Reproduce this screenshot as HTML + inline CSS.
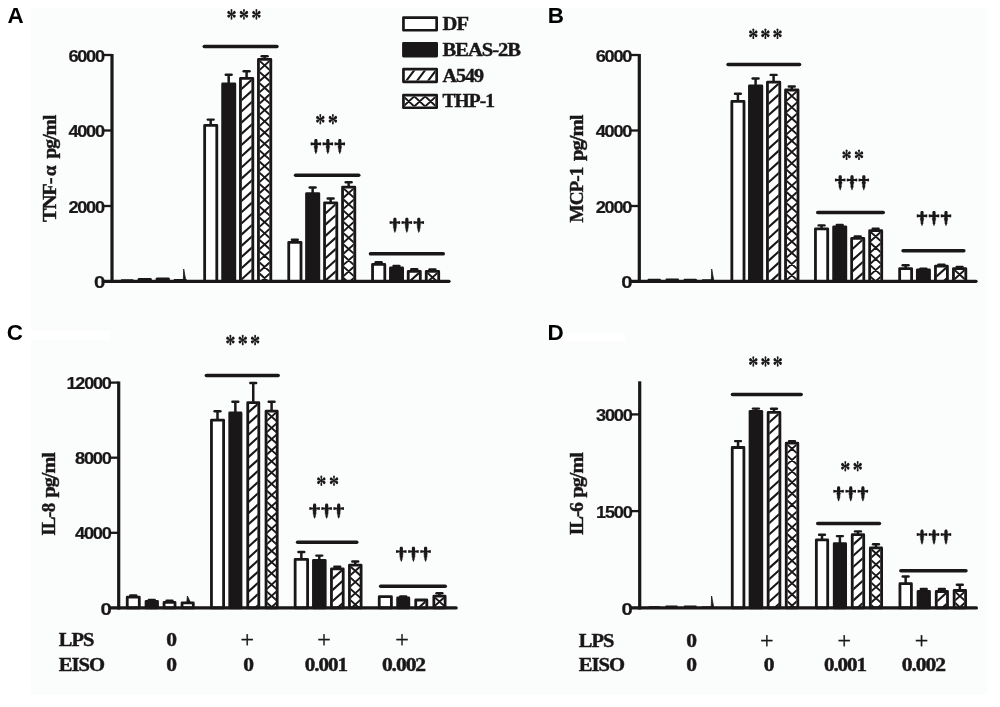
<!DOCTYPE html>
<html><head><meta charset="utf-8"><title>Figure</title>
<style>html,body{margin:0;padding:0;background:#fff;}body{width:1000px;height:707px;overflow:hidden;font-family:"Liberation Sans",sans-serif;}svg{display:block;will-change:transform;}</style>
</head><body>
<svg width="1000" height="707" viewBox="0 0 1000 707">
<defs>
<symbol id="star" overflow="visible"><g fill="#1a1718" transform="scale(0.88 1)"><path d="M0 -0.3C-0.6 -1.6 -1.2 -3.5 -1.0 -4.6C-0.8 -5.5 0.8 -5.5 1.0 -4.6C1.2 -3.5 0.6 -1.6 0 -0.3Z" transform="rotate(0)"/><path d="M0 -0.3C-0.9 -1.6 -1.75 -3.4 -1.45 -4.5C-1.2 -5.4 1.2 -5.4 1.45 -4.5C1.75 -3.4 0.9 -1.6 0 -0.3Z" transform="rotate(60)"/><path d="M0 -0.3C-0.9 -1.6 -1.75 -3.4 -1.45 -4.5C-1.2 -5.4 1.2 -5.4 1.45 -4.5C1.75 -3.4 0.9 -1.6 0 -0.3Z" transform="rotate(120)"/><path d="M0 -0.3C-0.6 -1.6 -1.2 -3.5 -1.0 -4.6C-0.8 -5.5 0.8 -5.5 1.0 -4.6C1.2 -3.5 0.6 -1.6 0 -0.3Z" transform="rotate(180)"/><path d="M0 -0.3C-0.9 -1.6 -1.75 -3.4 -1.45 -4.5C-1.2 -5.4 1.2 -5.4 1.45 -4.5C1.75 -3.4 0.9 -1.6 0 -0.3Z" transform="rotate(240)"/><path d="M0 -0.3C-0.9 -1.6 -1.75 -3.4 -1.45 -4.5C-1.2 -5.4 1.2 -5.4 1.45 -4.5C1.75 -3.4 0.9 -1.6 0 -0.3Z" transform="rotate(300)"/><circle r="1.4"/></g></symbol>
<symbol id="dag" overflow="visible"><g fill="#1a1718"><path d="M-1.0 0.1C-0.5 -0.1 0.5 -0.1 1.0 0.1C1.8 1.2 1.7 2.6 1.5 3.6L-1.5 3.6C-1.7 2.6 -1.8 1.2 -1.0 0.1Z"/><path d="M-5.0 3.3C-5.4 3.4 -5.4 6.2 -5.0 6.4C-3.4 6.0 -1.8 5.9 0 5.9C1.8 5.9 3.4 6.0 5.0 6.4C5.4 6.2 5.4 3.4 5.0 3.3C3.4 3.7 1.8 3.8 0 3.8C-1.8 3.8 -3.4 3.7 -5.0 3.3Z"/><rect x="-1.5" y="3" width="3" height="3.5"/><path d="M-1.5 5.5L1.5 5.5L1.3 6.6L2.50 7.00L1.30 7.95L2.30 8.35L1.10 9.30L2.10 9.70L0.90 10.65L1.90 11.05L0.70 12.00L1.70 12.40L0.50 13.35L0.9 13.6L0 15.2L-0.9 13.6L-0.50 13.35L-1.70 12.40L-0.70 12.00L-1.90 11.05L-0.90 10.65L-2.10 9.70L-1.10 9.30L-2.30 8.35L-1.30 7.95L-2.50 7.00L-1.3 6.6Z"/></g></symbol>
</defs>
<rect width="1000" height="707" fill="#fff"/>
<rect x="31" y="8.5" width="956.5" height="685.8" fill="#fbfcfc"/>
<rect x="31" y="331" width="79" height="9" fill="#fff"/>
<rect x="562" y="334" width="63" height="8" fill="#fff"/>
<rect x="204.65" y="125.4" width="12.15" height="155.9" fill="#fff" stroke="#1a1718" stroke-width="2.8" stroke-linejoin="round"/>
<path d="M210.7 125V119.6" stroke="#1a1718" stroke-width="2.5" fill="none"/>
<path d="M207.75 119.6H213.65" stroke="#1a1718" stroke-width="2.4" stroke-linecap="round" fill="none"/>
<rect x="222.65" y="84" width="12.15" height="197.3" fill="#1a1718" stroke="#1a1718" stroke-width="2.8" stroke-linejoin="round"/>
<path d="M228.7 83.6V74.7" stroke="#1a1718" stroke-width="2.5" fill="none"/>
<path d="M225.75 74.7H231.65" stroke="#1a1718" stroke-width="2.4" stroke-linecap="round" fill="none"/>
<clipPath id="c1"><rect x="241.55" y="79.5" width="10.15" height="201.8"/></clipPath><rect x="240.45" y="78.4" width="12.35" height="202.9" fill="#fff"/><path d="M253.2 67.25L240.05 79.08M253.2 78.45L240.05 90.28M253.2 89.65L240.05 101.48M253.2 100.85L240.05 112.68M253.2 112.05L240.05 123.88M253.2 123.25L240.05 135.09M253.2 134.45L240.05 146.29M253.2 145.65L240.05 157.49M253.2 156.85L240.05 168.69M253.2 168.05L240.05 179.88M253.2 179.25L240.05 191.09M253.2 190.45L240.05 202.29M253.2 201.65L240.05 213.49M253.2 212.85L240.05 224.69M253.2 224.05L240.05 235.88M253.2 235.25L240.05 247.08M253.2 246.45L240.05 258.29M253.2 257.65L240.05 269.49M253.2 268.85L240.05 280.69M253.2 280.05L240.05 291.88" stroke="#1a1718" stroke-width="2.1" fill="none" clip-path="url(#c1)"/><rect x="240.45" y="78.4" width="12.35" height="202.9" fill="none" stroke="#1a1718" stroke-width="2.8" stroke-linejoin="round"/>
<path d="M246.6 78V71.2" stroke="#1a1718" stroke-width="2.5" fill="none"/>
<path d="M243.65 71.2H249.55" stroke="#1a1718" stroke-width="2.4" stroke-linecap="round" fill="none"/>
<clipPath id="c2"><rect x="259.55" y="60.5" width="10.15" height="220.8"/></clipPath><rect x="258.45" y="59.4" width="12.35" height="221.9" fill="#fff"/><path d="M271.2 48.25L258.05 60.08M258.05 48.25L271.2 60.08M271.2 59.45L258.05 71.28M258.05 59.45L271.2 71.28M271.2 70.65L258.05 82.48M258.05 70.65L271.2 82.48M271.2 81.85L258.05 93.68M258.05 81.85L271.2 93.68M271.2 93.05L258.05 104.88M258.05 93.05L271.2 104.88M271.2 104.25L258.05 116.08M258.05 104.25L271.2 116.08M271.2 115.45L258.05 127.28M258.05 115.45L271.2 127.28M271.2 126.65L258.05 138.48M258.05 126.65L271.2 138.48M271.2 137.85L258.05 149.68M258.05 137.85L271.2 149.68M271.2 149.05L258.05 160.88M258.05 149.05L271.2 160.88M271.2 160.25L258.05 172.08M258.05 160.25L271.2 172.08M271.2 171.45L258.05 183.28M258.05 171.45L271.2 183.28M271.2 182.65L258.05 194.48M258.05 182.65L271.2 194.48M271.2 193.85L258.05 205.68M258.05 193.85L271.2 205.68M271.2 205.05L258.05 216.88M258.05 205.05L271.2 216.88M271.2 216.25L258.05 228.08M258.05 216.25L271.2 228.08M271.2 227.45L258.05 239.28M258.05 227.45L271.2 239.28M271.2 238.65L258.05 250.48M258.05 238.65L271.2 250.48M271.2 249.85L258.05 261.68M258.05 249.85L271.2 261.68M271.2 261.05L258.05 272.88M258.05 261.05L271.2 272.88M271.2 272.25L258.05 284.08M258.05 272.25L271.2 284.08" stroke="#1a1718" stroke-width="1.9" fill="none" clip-path="url(#c2)"/><rect x="258.45" y="59.4" width="12.35" height="221.9" fill="none" stroke="#1a1718" stroke-width="2.8" stroke-linejoin="round"/>
<path d="M264.6 59V56.2" stroke="#1a1718" stroke-width="2.5" fill="none"/>
<path d="M261.65 56.2H267.55" stroke="#1a1718" stroke-width="2.4" stroke-linecap="round" fill="none"/>
<rect x="288.75" y="242.3" width="12.25" height="39" fill="#fff" stroke="#1a1718" stroke-width="2.8" stroke-linejoin="round"/>
<path d="M294.85 241.9V239.7" stroke="#1a1718" stroke-width="2.5" fill="none"/>
<path d="M291.9 239.7H297.8" stroke="#1a1718" stroke-width="2.4" stroke-linecap="round" fill="none"/>
<rect x="306.55" y="193.6" width="12.25" height="87.7" fill="#1a1718" stroke="#1a1718" stroke-width="2.8" stroke-linejoin="round"/>
<path d="M312.65 193.2V187.5" stroke="#1a1718" stroke-width="2.5" fill="none"/>
<path d="M309.7 187.5H315.6" stroke="#1a1718" stroke-width="2.4" stroke-linecap="round" fill="none"/>
<clipPath id="c3"><rect x="325.65" y="203.9" width="10.05" height="77.4"/></clipPath><rect x="324.55" y="202.8" width="12.25" height="78.5" fill="#fff"/><path d="M337.2 191.65L324.15 203.39M337.2 202.85L324.15 214.59M337.2 214.05L324.15 225.79M337.2 225.25L324.15 236.99M337.2 236.45L324.15 248.19M337.2 247.65L324.15 259.39M337.2 258.85L324.15 270.6M337.2 270.05L324.15 281.79M337.2 281.25L324.15 293" stroke="#1a1718" stroke-width="2.1" fill="none" clip-path="url(#c3)"/><rect x="324.55" y="202.8" width="12.25" height="78.5" fill="none" stroke="#1a1718" stroke-width="2.8" stroke-linejoin="round"/>
<path d="M330.65 202.4V198.5" stroke="#1a1718" stroke-width="2.5" fill="none"/>
<path d="M327.7 198.5H333.6" stroke="#1a1718" stroke-width="2.4" stroke-linecap="round" fill="none"/>
<clipPath id="c4"><rect x="343.65" y="188.2" width="10.05" height="93.1"/></clipPath><rect x="342.55" y="187.1" width="12.25" height="94.2" fill="#fff"/><path d="M355.2 175.95L342.15 187.69M342.15 175.95L355.2 187.69M355.2 187.15L342.15 198.89M342.15 187.15L355.2 198.89M355.2 198.35L342.15 210.09M342.15 198.35L355.2 210.09M355.2 209.55L342.15 221.29M342.15 209.55L355.2 221.29M355.2 220.75L342.15 232.49M342.15 220.75L355.2 232.49M355.2 231.95L342.15 243.69M342.15 231.95L355.2 243.69M355.2 243.15L342.15 254.89M342.15 243.15L355.2 254.89M355.2 254.35L342.15 266.09M342.15 254.35L355.2 266.09M355.2 265.55L342.15 277.29M342.15 265.55L355.2 277.29M355.2 276.75L342.15 288.5M342.15 276.75L355.2 288.5" stroke="#1a1718" stroke-width="1.9" fill="none" clip-path="url(#c4)"/><rect x="342.55" y="187.1" width="12.25" height="94.2" fill="none" stroke="#1a1718" stroke-width="2.8" stroke-linejoin="round"/>
<path d="M348.65 186.7V182.3" stroke="#1a1718" stroke-width="2.5" fill="none"/>
<path d="M345.7 182.3H351.6" stroke="#1a1718" stroke-width="2.4" stroke-linecap="round" fill="none"/>
<rect x="372.55" y="264.4" width="12.25" height="16.9" fill="#fff" stroke="#1a1718" stroke-width="2.8" stroke-linejoin="round"/>
<path d="M378.65 264V262.2" stroke="#1a1718" stroke-width="2.5" fill="none"/>
<path d="M375.7 262.2H381.6" stroke="#1a1718" stroke-width="2.4" stroke-linecap="round" fill="none"/>
<rect x="390.45" y="267.9" width="12.15" height="13.4" fill="#1a1718" stroke="#1a1718" stroke-width="2.8" stroke-linejoin="round"/>
<path d="M396.5 267.5V266" stroke="#1a1718" stroke-width="2.5" fill="none"/>
<path d="M393.55 266H399.45" stroke="#1a1718" stroke-width="2.4" stroke-linecap="round" fill="none"/>
<clipPath id="c5"><rect x="409.35" y="272.5" width="9.85" height="8.8"/></clipPath><rect x="408.25" y="271.4" width="12.05" height="9.9" fill="#fff"/><path d="M420.7 260.25L407.85 271.81M420.7 271.45L407.85 283.01" stroke="#1a1718" stroke-width="2.1" fill="none" clip-path="url(#c5)"/><rect x="408.25" y="271.4" width="12.05" height="9.9" fill="none" stroke="#1a1718" stroke-width="2.8" stroke-linejoin="round"/>
<path d="M414.25 271V269.2" stroke="#1a1718" stroke-width="2.5" fill="none"/>
<path d="M411.3 269.2H417.2" stroke="#1a1718" stroke-width="2.4" stroke-linecap="round" fill="none"/>
<clipPath id="c6"><rect x="427.35" y="272.5" width="10.25" height="8.8"/></clipPath><rect x="426.25" y="271.4" width="12.45" height="9.9" fill="#fff"/><path d="M439.1 260.25L425.85 272.17M425.85 260.25L439.1 272.17M439.1 271.45L425.85 283.37M425.85 271.45L439.1 283.37" stroke="#1a1718" stroke-width="1.9" fill="none" clip-path="url(#c6)"/><rect x="426.25" y="271.4" width="12.45" height="9.9" fill="none" stroke="#1a1718" stroke-width="2.8" stroke-linejoin="round"/>
<path d="M432.45 271V269.5" stroke="#1a1718" stroke-width="2.5" fill="none"/>
<path d="M429.5 269.5H435.4" stroke="#1a1718" stroke-width="2.4" stroke-linecap="round" fill="none"/>
<path d="M121.5 279.9H133" stroke="#1a1718" stroke-width="1.2" stroke-linecap="round" fill="none"/>
<path d="M139 279.2H150.5" stroke="#1a1718" stroke-width="2.6" stroke-linecap="round" fill="none"/>
<path d="M157 279H168.5" stroke="#1a1718" stroke-width="3" stroke-linecap="round" fill="none"/>
<path d="M174.5 279.7H186" stroke="#1a1718" stroke-width="1.6" stroke-linecap="round" fill="none"/>
<path d="M183.3 281.3L183.7 269L185.9 281.3Z" fill="#1a1718" stroke="#1a1718" stroke-width="0.8" stroke-linejoin="round"/>
<path d="M112 54V282.9" stroke="#1a1718" stroke-width="3.2" fill="none"/>
<path d="M103.5 281.3H449" stroke="#1a1718" stroke-width="3.3" stroke-linecap="round" fill="none"/>
<path d="M103.5 55H112" stroke="#1a1718" stroke-width="2.3" fill="none"/>
<text x="103.8" y="61.6" text-anchor="end" font-family='"Liberation Sans", sans-serif' font-weight="700" font-size="17" letter-spacing="-1.2" textLength="35.4" lengthAdjust="spacingAndGlyphs" stroke="#1a1718" stroke-width="0.2" fill="#1a1718">6000</text>
<path d="M103.5 130.5H112" stroke="#1a1718" stroke-width="2.3" fill="none"/>
<text x="103.8" y="137.1" text-anchor="end" font-family='"Liberation Sans", sans-serif' font-weight="700" font-size="17" letter-spacing="-1.2" textLength="35.4" lengthAdjust="spacingAndGlyphs" stroke="#1a1718" stroke-width="0.2" fill="#1a1718">4000</text>
<path d="M103.5 206H112" stroke="#1a1718" stroke-width="2.3" fill="none"/>
<text x="103.8" y="212.6" text-anchor="end" font-family='"Liberation Sans", sans-serif' font-weight="700" font-size="17" letter-spacing="-1.2" textLength="35.4" lengthAdjust="spacingAndGlyphs" stroke="#1a1718" stroke-width="0.2" fill="#1a1718">2000</text>
<text x="103.8" y="287.9" text-anchor="end" font-family='"Liberation Sans", sans-serif' font-weight="700" font-size="17" letter-spacing="-1.2" textLength="9.9" lengthAdjust="spacingAndGlyphs" stroke="#1a1718" stroke-width="0.2" fill="#1a1718">0</text>
<path d="M204.25 46.6H276.95" stroke="#1a1718" stroke-width="3.5" stroke-linecap="round" fill="none"/>
<path d="M295.55 175.2H358.75" stroke="#1a1718" stroke-width="3.5" stroke-linecap="round" fill="none"/>
<path d="M370.45 253.8H443.25" stroke="#1a1718" stroke-width="3.5" stroke-linecap="round" fill="none"/>
<use href="#star" x="231.5" y="14.35"/>
<use href="#star" x="243.95" y="14.35"/>
<use href="#star" x="256.4" y="14.35"/>
<use href="#star" x="320.3" y="119.15"/>
<use href="#star" x="332.9" y="119.15"/>
<use href="#dag" x="315.9" y="139"/>
<use href="#dag" x="327.85" y="139"/>
<use href="#dag" x="339.8" y="139"/>
<use href="#dag" x="394.9" y="217.7"/>
<use href="#dag" x="406.85" y="217.7"/>
<use href="#dag" x="418.8" y="217.7"/>
<text transform="translate(56 221.9) rotate(-90)" text-anchor="start" font-family='"Liberation Serif", serif' font-weight="700" font-size="18" letter-spacing="-0.9" stroke="#1a1718" stroke-width="0.4" textLength="43.4" lengthAdjust="spacingAndGlyphs" fill="#1a1718">TNF-</text>
<text transform="translate(56 175.9) rotate(-90)" text-anchor="start" font-family='"Liberation Serif", serif' font-weight="700" font-size="18" letter-spacing="0" stroke="#1a1718" stroke-width="0.4" textLength="10.4" lengthAdjust="spacingAndGlyphs" fill="#1a1718">α</text>
<text transform="translate(56 158.6) rotate(-90)" text-anchor="start" font-family='"Liberation Serif", serif' font-weight="700" font-size="18" letter-spacing="-0.9" stroke="#1a1718" stroke-width="0.4" textLength="43" lengthAdjust="spacingAndGlyphs" fill="#1a1718">pg/ml</text>
<text x="7.6" y="23.2" font-family='"Liberation Sans", sans-serif' font-weight="700" font-size="22.4" fill="#000">A</text>
<rect x="731.85" y="101.4" width="12.15" height="179.9" fill="#fff" stroke="#1a1718" stroke-width="2.8" stroke-linejoin="round"/>
<path d="M737.9 101V93.8" stroke="#1a1718" stroke-width="2.5" fill="none"/>
<path d="M734.95 93.8H740.85" stroke="#1a1718" stroke-width="2.4" stroke-linecap="round" fill="none"/>
<rect x="749.45" y="85.8" width="12.35" height="195.5" fill="#1a1718" stroke="#1a1718" stroke-width="2.8" stroke-linejoin="round"/>
<path d="M755.6 85.4V78.5" stroke="#1a1718" stroke-width="2.5" fill="none"/>
<path d="M752.65 78.5H758.55" stroke="#1a1718" stroke-width="2.4" stroke-linecap="round" fill="none"/>
<clipPath id="c7"><rect x="768.55" y="83.3" width="10.15" height="198"/></clipPath><rect x="767.45" y="82.2" width="12.35" height="199.1" fill="#fff"/><path d="M780.2 71.05L767.05 82.88M780.2 82.25L767.05 94.08M780.2 93.45L767.05 105.28M780.2 104.65L767.05 116.48M780.2 115.85L767.05 127.68M780.2 127.05L767.05 138.88M780.2 138.25L767.05 150.08M780.2 149.45L767.05 161.28M780.2 160.65L767.05 172.48M780.2 171.85L767.05 183.68M780.2 183.05L767.05 194.88M780.2 194.25L767.05 206.08M780.2 205.45L767.05 217.28M780.2 216.65L767.05 228.48M780.2 227.85L767.05 239.68M780.2 239.05L767.05 250.88M780.2 250.25L767.05 262.08M780.2 261.45L767.05 273.28M780.2 272.65L767.05 284.48" stroke="#1a1718" stroke-width="2.1" fill="none" clip-path="url(#c7)"/><rect x="767.45" y="82.2" width="12.35" height="199.1" fill="none" stroke="#1a1718" stroke-width="2.8" stroke-linejoin="round"/>
<path d="M773.6 81.8V74.9" stroke="#1a1718" stroke-width="2.5" fill="none"/>
<path d="M770.65 74.9H776.55" stroke="#1a1718" stroke-width="2.4" stroke-linecap="round" fill="none"/>
<clipPath id="c8"><rect x="786.65" y="91.1" width="10.25" height="190.2"/></clipPath><rect x="785.55" y="90" width="12.45" height="191.3" fill="#fff"/><path d="M798.4 78.85L785.15 90.78M785.15 78.85L798.4 90.78M798.4 90.05L785.15 101.98M785.15 90.05L798.4 101.98M798.4 101.25L785.15 113.18M785.15 101.25L798.4 113.18M798.4 112.45L785.15 124.38M785.15 112.45L798.4 124.38M798.4 123.65L785.15 135.58M785.15 123.65L798.4 135.58M798.4 134.85L785.15 146.78M785.15 134.85L798.4 146.78M798.4 146.05L785.15 157.98M785.15 146.05L798.4 157.98M798.4 157.25L785.15 169.18M785.15 157.25L798.4 169.18M798.4 168.45L785.15 180.38M785.15 168.45L798.4 180.38M798.4 179.65L785.15 191.58M785.15 179.65L798.4 191.58M798.4 190.85L785.15 202.78M785.15 190.85L798.4 202.78M798.4 202.05L785.15 213.98M785.15 202.05L798.4 213.98M798.4 213.25L785.15 225.18M785.15 213.25L798.4 225.18M798.4 224.45L785.15 236.38M785.15 224.45L798.4 236.38M798.4 235.65L785.15 247.58M785.15 235.65L798.4 247.58M798.4 246.85L785.15 258.78M785.15 246.85L798.4 258.78M798.4 258.05L785.15 269.98M785.15 258.05L798.4 269.98M798.4 269.25L785.15 281.18M785.15 269.25L798.4 281.18M798.4 280.45L785.15 292.38M785.15 280.45L798.4 292.38" stroke="#1a1718" stroke-width="1.9" fill="none" clip-path="url(#c8)"/><rect x="785.55" y="90" width="12.45" height="191.3" fill="none" stroke="#1a1718" stroke-width="2.8" stroke-linejoin="round"/>
<path d="M791.75 89.6V86.5" stroke="#1a1718" stroke-width="2.5" fill="none"/>
<path d="M788.8 86.5H794.7" stroke="#1a1718" stroke-width="2.4" stroke-linecap="round" fill="none"/>
<rect x="815.45" y="228.8" width="12.25" height="52.5" fill="#fff" stroke="#1a1718" stroke-width="2.8" stroke-linejoin="round"/>
<path d="M821.55 228.4V225.4" stroke="#1a1718" stroke-width="2.5" fill="none"/>
<path d="M818.6 225.4H824.5" stroke="#1a1718" stroke-width="2.4" stroke-linecap="round" fill="none"/>
<rect x="833.65" y="226.8" width="12.15" height="54.5" fill="#1a1718" stroke="#1a1718" stroke-width="2.8" stroke-linejoin="round"/>
<path d="M839.7 226.4V225" stroke="#1a1718" stroke-width="2.5" fill="none"/>
<path d="M836.75 225H842.65" stroke="#1a1718" stroke-width="2.4" stroke-linecap="round" fill="none"/>
<clipPath id="c9"><rect x="852.75" y="239.4" width="9.95" height="41.9"/></clipPath><rect x="851.65" y="238.3" width="12.15" height="43" fill="#fff"/><path d="M864.2 227.15L851.25 238.81M864.2 238.35L851.25 250.01M864.2 249.55L851.25 261.21M864.2 260.75L851.25 272.41M864.2 271.95L851.25 283.61" stroke="#1a1718" stroke-width="2.1" fill="none" clip-path="url(#c9)"/><rect x="851.65" y="238.3" width="12.15" height="43" fill="none" stroke="#1a1718" stroke-width="2.8" stroke-linejoin="round"/>
<path d="M857.7 237.9V236.4" stroke="#1a1718" stroke-width="2.5" fill="none"/>
<path d="M854.75 236.4H860.65" stroke="#1a1718" stroke-width="2.4" stroke-linecap="round" fill="none"/>
<clipPath id="c10"><rect x="870.75" y="231.8" width="9.85" height="49.5"/></clipPath><rect x="869.65" y="230.7" width="12.05" height="50.6" fill="#fff"/><path d="M882.1 219.55L869.25 231.12M869.25 219.55L882.1 231.12M882.1 230.75L869.25 242.32M869.25 230.75L882.1 242.32M882.1 241.95L869.25 253.52M869.25 241.95L882.1 253.52M882.1 253.15L869.25 264.72M869.25 253.15L882.1 264.72M882.1 264.35L869.25 275.92M869.25 264.35L882.1 275.92M882.1 275.55L869.25 287.12M869.25 275.55L882.1 287.12" stroke="#1a1718" stroke-width="1.9" fill="none" clip-path="url(#c10)"/><rect x="869.65" y="230.7" width="12.05" height="50.6" fill="none" stroke="#1a1718" stroke-width="2.8" stroke-linejoin="round"/>
<path d="M875.65 230.3V228.8" stroke="#1a1718" stroke-width="2.5" fill="none"/>
<path d="M872.7 228.8H878.6" stroke="#1a1718" stroke-width="2.4" stroke-linecap="round" fill="none"/>
<rect x="899.65" y="268.6" width="11.95" height="12.7" fill="#fff" stroke="#1a1718" stroke-width="2.8" stroke-linejoin="round"/>
<path d="M905.6 268.2V265.2" stroke="#1a1718" stroke-width="2.5" fill="none"/>
<path d="M902.65 265.2H908.55" stroke="#1a1718" stroke-width="2.4" stroke-linecap="round" fill="none"/>
<rect x="917.35" y="270" width="12.15" height="11.3" fill="#1a1718" stroke="#1a1718" stroke-width="2.8" stroke-linejoin="round"/>
<path d="M923.4 269.6V268.6" stroke="#1a1718" stroke-width="2.5" fill="none"/>
<path d="M920.45 268.6H926.35" stroke="#1a1718" stroke-width="2.4" stroke-linecap="round" fill="none"/>
<clipPath id="c11"><rect x="936.55" y="267.3" width="9.75" height="14"/></clipPath><rect x="935.45" y="266.2" width="11.95" height="15.1" fill="#fff"/><path d="M947.8 255.05L935.05 266.53M947.8 266.25L935.05 277.73M947.8 277.45L935.05 288.93" stroke="#1a1718" stroke-width="2.1" fill="none" clip-path="url(#c11)"/><rect x="935.45" y="266.2" width="11.95" height="15.1" fill="none" stroke="#1a1718" stroke-width="2.8" stroke-linejoin="round"/>
<path d="M941.4 265.8V264.6" stroke="#1a1718" stroke-width="2.5" fill="none"/>
<path d="M938.45 264.6H944.35" stroke="#1a1718" stroke-width="2.4" stroke-linecap="round" fill="none"/>
<clipPath id="c12"><rect x="954.55" y="269.7" width="10.15" height="11.6"/></clipPath><rect x="953.45" y="268.6" width="12.35" height="12.7" fill="#fff"/><path d="M966.2 257.45L953.05 269.28M953.05 257.45L966.2 269.28M966.2 268.65L953.05 280.48M953.05 268.65L966.2 280.48M966.2 279.85L953.05 291.68M953.05 279.85L966.2 291.68" stroke="#1a1718" stroke-width="1.9" fill="none" clip-path="url(#c12)"/><rect x="953.45" y="268.6" width="12.35" height="12.7" fill="none" stroke="#1a1718" stroke-width="2.8" stroke-linejoin="round"/>
<path d="M959.6 268.2V267" stroke="#1a1718" stroke-width="2.5" fill="none"/>
<path d="M956.65 267H962.55" stroke="#1a1718" stroke-width="2.4" stroke-linecap="round" fill="none"/>
<path d="M648.5 279.6H660" stroke="#1a1718" stroke-width="1.8" stroke-linecap="round" fill="none"/>
<path d="M666.5 279.5H678" stroke="#1a1718" stroke-width="2" stroke-linecap="round" fill="none"/>
<path d="M684.5 279.6H696" stroke="#1a1718" stroke-width="1.8" stroke-linecap="round" fill="none"/>
<path d="M702.5 279.9H713.5" stroke="#1a1718" stroke-width="1.2" stroke-linecap="round" fill="none"/>
<path d="M711.3 281.3L711.7 269L713.9 281.3Z" fill="#1a1718" stroke="#1a1718" stroke-width="0.8" stroke-linejoin="round"/>
<path d="M639.3 54V282.9" stroke="#1a1718" stroke-width="3.2" fill="none"/>
<path d="M630.8 281.3H976" stroke="#1a1718" stroke-width="3.3" stroke-linecap="round" fill="none"/>
<path d="M630.8 55H639.3" stroke="#1a1718" stroke-width="2.3" fill="none"/>
<text x="631.1" y="61.6" text-anchor="end" font-family='"Liberation Sans", sans-serif' font-weight="700" font-size="17" letter-spacing="-1.2" textLength="35.4" lengthAdjust="spacingAndGlyphs" stroke="#1a1718" stroke-width="0.2" fill="#1a1718">6000</text>
<path d="M630.8 130.5H639.3" stroke="#1a1718" stroke-width="2.3" fill="none"/>
<text x="631.1" y="137.1" text-anchor="end" font-family='"Liberation Sans", sans-serif' font-weight="700" font-size="17" letter-spacing="-1.2" textLength="35.4" lengthAdjust="spacingAndGlyphs" stroke="#1a1718" stroke-width="0.2" fill="#1a1718">4000</text>
<path d="M630.8 206H639.3" stroke="#1a1718" stroke-width="2.3" fill="none"/>
<text x="631.1" y="212.6" text-anchor="end" font-family='"Liberation Sans", sans-serif' font-weight="700" font-size="17" letter-spacing="-1.2" textLength="35.4" lengthAdjust="spacingAndGlyphs" stroke="#1a1718" stroke-width="0.2" fill="#1a1718">2000</text>
<text x="631.1" y="287.9" text-anchor="end" font-family='"Liberation Sans", sans-serif' font-weight="700" font-size="17" letter-spacing="-1.2" textLength="9.9" lengthAdjust="spacingAndGlyphs" stroke="#1a1718" stroke-width="0.2" fill="#1a1718">0</text>
<path d="M728.05 64.6H799.55" stroke="#1a1718" stroke-width="3.5" stroke-linecap="round" fill="none"/>
<path d="M817.75 212.5H883.25" stroke="#1a1718" stroke-width="3.5" stroke-linecap="round" fill="none"/>
<path d="M903.05 250.7H963.85" stroke="#1a1718" stroke-width="3.5" stroke-linecap="round" fill="none"/>
<use href="#star" x="753.3" y="33.8"/>
<use href="#star" x="765.4" y="33.8"/>
<use href="#star" x="777.5" y="33.8"/>
<use href="#star" x="846.6" y="154.8"/>
<use href="#star" x="859" y="154.8"/>
<use href="#dag" x="840.2" y="175.2"/>
<use href="#dag" x="852" y="175.2"/>
<use href="#dag" x="863.8" y="175.2"/>
<use href="#dag" x="922" y="211"/>
<use href="#dag" x="934" y="211"/>
<use href="#dag" x="946" y="211"/>
<text transform="translate(582.9 222.5) rotate(-90)" text-anchor="start" font-family='"Liberation Serif", serif' font-weight="700" font-size="18" letter-spacing="-0.9" stroke="#1a1718" stroke-width="0.4" textLength="54.8" lengthAdjust="spacingAndGlyphs" fill="#1a1718">MCP-1</text>
<text transform="translate(582.9 161) rotate(-90)" text-anchor="start" font-family='"Liberation Serif", serif' font-weight="700" font-size="18" letter-spacing="-0.9" stroke="#1a1718" stroke-width="0.4" textLength="45.4" lengthAdjust="spacingAndGlyphs" fill="#1a1718">pg/ml</text>
<text x="547.7" y="23.2" font-family='"Liberation Sans", sans-serif' font-weight="700" font-size="22.4" fill="#000">B</text>
<rect x="127.25" y="597.2" width="12.05" height="10.7" fill="#fff" stroke="#1a1718" stroke-width="2.8" stroke-linejoin="round"/>
<path d="M133.25 596.8V595.5" stroke="#1a1718" stroke-width="2.5" fill="none"/>
<path d="M130.3 595.5H136.2" stroke="#1a1718" stroke-width="2.4" stroke-linecap="round" fill="none"/>
<rect x="146.05" y="601.4" width="11.45" height="6.5" fill="#1a1718" stroke="#1a1718" stroke-width="2.8" stroke-linejoin="round"/>
<path d="M151.75 601V600" stroke="#1a1718" stroke-width="2.5" fill="none"/>
<path d="M148.8 600H154.7" stroke="#1a1718" stroke-width="2.4" stroke-linecap="round" fill="none"/>
<clipPath id="c13"><rect x="165.15" y="603.5" width="8.75" height="4.4"/></clipPath><rect x="164.05" y="602.4" width="10.95" height="5.5" fill="#fff"/><path d="" stroke="#1a1718" stroke-width="2.1" fill="none" clip-path="url(#c13)"/><rect x="164.05" y="602.4" width="10.95" height="5.5" fill="none" stroke="#1a1718" stroke-width="2.8" stroke-linejoin="round"/>
<path d="M169.5 602V600.7" stroke="#1a1718" stroke-width="2.5" fill="none"/>
<path d="M166.55 600.7H172.45" stroke="#1a1718" stroke-width="2.4" stroke-linecap="round" fill="none"/>
<clipPath id="c14"><rect x="183.15" y="604" width="9.05" height="3.9"/></clipPath><rect x="182.05" y="602.9" width="11.25" height="5" fill="#fff"/><path d="" stroke="#1a1718" stroke-width="1.9" fill="none" clip-path="url(#c14)"/><rect x="182.05" y="602.9" width="11.25" height="5" fill="none" stroke="#1a1718" stroke-width="2.8" stroke-linejoin="round"/>
<rect x="211.45" y="420.1" width="12.15" height="187.8" fill="#fff" stroke="#1a1718" stroke-width="2.8" stroke-linejoin="round"/>
<path d="M217.5 419.7V411.2" stroke="#1a1718" stroke-width="2.5" fill="none"/>
<path d="M214.55 411.2H220.45" stroke="#1a1718" stroke-width="2.4" stroke-linecap="round" fill="none"/>
<rect x="229.75" y="412.9" width="11.25" height="195" fill="#1a1718" stroke="#1a1718" stroke-width="2.8" stroke-linejoin="round"/>
<path d="M235.35 412.5V401.7" stroke="#1a1718" stroke-width="2.5" fill="none"/>
<path d="M232.4 401.7H238.3" stroke="#1a1718" stroke-width="2.4" stroke-linecap="round" fill="none"/>
<clipPath id="c15"><rect x="248.85" y="403.7" width="8.85" height="204.2"/></clipPath><rect x="247.75" y="402.6" width="11.05" height="205.3" fill="#fff"/><path d="M259.2 391.45L247.35 402.12M259.2 402.65L247.35 413.31M259.2 413.85L247.35 424.51M259.2 425.05L247.35 435.71M259.2 436.25L247.35 446.92M259.2 447.45L247.35 458.12M259.2 458.65L247.35 469.31M259.2 469.85L247.35 480.51M259.2 481.05L247.35 491.71M259.2 492.25L247.35 502.92M259.2 503.45L247.35 514.12M259.2 514.65L247.35 525.31M259.2 525.85L247.35 536.51M259.2 537.05L247.35 547.71M259.2 548.25L247.35 558.91M259.2 559.45L247.35 570.11M259.2 570.65L247.35 581.31M259.2 581.85L247.35 592.51M259.2 593.05L247.35 603.71M259.2 604.25L247.35 614.91" stroke="#1a1718" stroke-width="2.1" fill="none" clip-path="url(#c15)"/><rect x="247.75" y="402.6" width="11.05" height="205.3" fill="none" stroke="#1a1718" stroke-width="2.8" stroke-linejoin="round"/>
<path d="M253.25 402.2V383" stroke="#1a1718" stroke-width="2.5" fill="none"/>
<path d="M250.3 383H256.2" stroke="#1a1718" stroke-width="2.4" stroke-linecap="round" fill="none"/>
<clipPath id="c16"><rect x="267.15" y="412.3" width="8.95" height="195.6"/></clipPath><rect x="266.05" y="411.2" width="11.15" height="196.7" fill="#fff"/><path d="M277.6 400.05L265.65 410.8M265.65 400.05L277.6 410.8M277.6 411.25L265.65 422M265.65 411.25L277.6 422M277.6 422.45L265.65 433.2M265.65 422.45L277.6 433.2M277.6 433.65L265.65 444.4M265.65 433.65L277.6 444.4M277.6 444.85L265.65 455.6M265.65 444.85L277.6 455.6M277.6 456.05L265.65 466.8M265.65 456.05L277.6 466.8M277.6 467.25L265.65 478M265.65 467.25L277.6 478M277.6 478.45L265.65 489.2M265.65 478.45L277.6 489.2M277.6 489.65L265.65 500.4M265.65 489.65L277.6 500.4M277.6 500.85L265.65 511.6M265.65 500.85L277.6 511.6M277.6 512.05L265.65 522.8M265.65 512.05L277.6 522.8M277.6 523.25L265.65 534M265.65 523.25L277.6 534M277.6 534.45L265.65 545.2M265.65 534.45L277.6 545.2M277.6 545.65L265.65 556.4M265.65 545.65L277.6 556.4M277.6 556.85L265.65 567.61M265.65 556.85L277.6 567.61M277.6 568.05L265.65 578.8M265.65 568.05L277.6 578.8M277.6 579.25L265.65 590M265.65 579.25L277.6 590M277.6 590.45L265.65 601.2M265.65 590.45L277.6 601.2M277.6 601.65L265.65 612.4M265.65 601.65L277.6 612.4" stroke="#1a1718" stroke-width="1.9" fill="none" clip-path="url(#c16)"/><rect x="266.05" y="411.2" width="11.15" height="196.7" fill="none" stroke="#1a1718" stroke-width="2.8" stroke-linejoin="round"/>
<path d="M271.6 410.8V401.7" stroke="#1a1718" stroke-width="2.5" fill="none"/>
<path d="M268.65 401.7H274.55" stroke="#1a1718" stroke-width="2.4" stroke-linecap="round" fill="none"/>
<rect x="295.15" y="559.3" width="12.45" height="48.6" fill="#fff" stroke="#1a1718" stroke-width="2.8" stroke-linejoin="round"/>
<path d="M301.35 558.9V552" stroke="#1a1718" stroke-width="2.5" fill="none"/>
<path d="M298.4 552H304.3" stroke="#1a1718" stroke-width="2.4" stroke-linecap="round" fill="none"/>
<rect x="313.45" y="560.3" width="11.75" height="47.6" fill="#1a1718" stroke="#1a1718" stroke-width="2.8" stroke-linejoin="round"/>
<path d="M319.3 559.9V555.6" stroke="#1a1718" stroke-width="2.5" fill="none"/>
<path d="M316.35 555.6H322.25" stroke="#1a1718" stroke-width="2.4" stroke-linecap="round" fill="none"/>
<clipPath id="c17"><rect x="332.55" y="569.9" width="9.55" height="38"/></clipPath><rect x="331.45" y="568.8" width="11.75" height="39.1" fill="#fff"/><path d="M343.6 557.65L331.05 568.94M343.6 568.85L331.05 580.14M343.6 580.05L331.05 591.34M343.6 591.25L331.05 602.54M343.6 602.45L331.05 613.74" stroke="#1a1718" stroke-width="2.1" fill="none" clip-path="url(#c17)"/><rect x="331.45" y="568.8" width="11.75" height="39.1" fill="none" stroke="#1a1718" stroke-width="2.8" stroke-linejoin="round"/>
<path d="M337.3 568.4V566.7" stroke="#1a1718" stroke-width="2.5" fill="none"/>
<path d="M334.35 566.7H340.25" stroke="#1a1718" stroke-width="2.4" stroke-linecap="round" fill="none"/>
<clipPath id="c18"><rect x="350.55" y="566.3" width="9.45" height="41.6"/></clipPath><rect x="349.45" y="565.2" width="11.65" height="42.7" fill="#fff"/><path d="M361.5 554.05L349.05 565.25M349.05 554.05L361.5 565.25M361.5 565.25L349.05 576.45M349.05 565.25L361.5 576.45M361.5 576.45L349.05 587.65M349.05 576.45L361.5 587.65M361.5 587.65L349.05 598.85M349.05 587.65L361.5 598.85M361.5 598.85L349.05 610.05M349.05 598.85L361.5 610.05" stroke="#1a1718" stroke-width="1.9" fill="none" clip-path="url(#c18)"/><rect x="349.45" y="565.2" width="11.65" height="42.7" fill="none" stroke="#1a1718" stroke-width="2.8" stroke-linejoin="round"/>
<path d="M355.25 564.8V561.5" stroke="#1a1718" stroke-width="2.5" fill="none"/>
<path d="M352.3 561.5H358.2" stroke="#1a1718" stroke-width="2.4" stroke-linecap="round" fill="none"/>
<rect x="379.25" y="596.7" width="12.15" height="11.2" fill="#fff" stroke="#1a1718" stroke-width="2.8" stroke-linejoin="round"/>
<rect x="397.65" y="597.9" width="11.15" height="10" fill="#1a1718" stroke="#1a1718" stroke-width="2.8" stroke-linejoin="round"/>
<path d="M403.2 597.5V596.5" stroke="#1a1718" stroke-width="2.5" fill="none"/>
<path d="M400.25 596.5H406.15" stroke="#1a1718" stroke-width="2.4" stroke-linecap="round" fill="none"/>
<clipPath id="c19"><rect x="416.85" y="601.1" width="8.85" height="6.8"/></clipPath><rect x="415.75" y="600" width="11.05" height="7.9" fill="#fff"/><path d="M427.2 588.85L415.35 599.51M427.2 600.05L415.35 610.71" stroke="#1a1718" stroke-width="2.1" fill="none" clip-path="url(#c19)"/><rect x="415.75" y="600" width="11.05" height="7.9" fill="none" stroke="#1a1718" stroke-width="2.8" stroke-linejoin="round"/>
<clipPath id="c20"><rect x="434.95" y="597.3" width="9.05" height="10.6"/></clipPath><rect x="433.85" y="596.2" width="11.25" height="11.7" fill="#fff"/><path d="M445.5 585.05L433.45 595.89M433.45 585.05L445.5 595.89M445.5 596.25L433.45 607.09M433.45 596.25L445.5 607.09M445.5 607.45L433.45 618.29M433.45 607.45L445.5 618.29" stroke="#1a1718" stroke-width="1.9" fill="none" clip-path="url(#c20)"/><rect x="433.85" y="596.2" width="11.25" height="11.7" fill="none" stroke="#1a1718" stroke-width="2.8" stroke-linejoin="round"/>
<path d="M439.45 595.8V593.2" stroke="#1a1718" stroke-width="2.5" fill="none"/>
<path d="M436.5 593.2H442.4" stroke="#1a1718" stroke-width="2.4" stroke-linecap="round" fill="none"/>
<path d="M186.8 602.3L187.4 596L190.4 602.3Z" fill="#1a1718" stroke="#1a1718" stroke-width="0.8" stroke-linejoin="round"/>
<path d="M118.7 381.5V609.5" stroke="#1a1718" stroke-width="3.2" fill="none"/>
<path d="M110.2 607.9H456.1" stroke="#1a1718" stroke-width="3.3" stroke-linecap="round" fill="none"/>
<path d="M110.2 382.6H118.7" stroke="#1a1718" stroke-width="2.3" fill="none"/>
<text x="110.5" y="389.2" text-anchor="end" font-family='"Liberation Sans", sans-serif' font-weight="700" font-size="17" letter-spacing="-1.2" textLength="43.9" lengthAdjust="spacingAndGlyphs" stroke="#1a1718" stroke-width="0.2" fill="#1a1718">12000</text>
<path d="M110.2 457.7H118.7" stroke="#1a1718" stroke-width="2.3" fill="none"/>
<text x="110.5" y="464.3" text-anchor="end" font-family='"Liberation Sans", sans-serif' font-weight="700" font-size="17" letter-spacing="-1.2" textLength="35.4" lengthAdjust="spacingAndGlyphs" stroke="#1a1718" stroke-width="0.2" fill="#1a1718">8000</text>
<path d="M110.2 532.8H118.7" stroke="#1a1718" stroke-width="2.3" fill="none"/>
<text x="110.5" y="539.4" text-anchor="end" font-family='"Liberation Sans", sans-serif' font-weight="700" font-size="17" letter-spacing="-1.2" textLength="35.4" lengthAdjust="spacingAndGlyphs" stroke="#1a1718" stroke-width="0.2" fill="#1a1718">4000</text>
<text x="110.5" y="614.5" text-anchor="end" font-family='"Liberation Sans", sans-serif' font-weight="700" font-size="17" letter-spacing="-1.2" textLength="9.9" lengthAdjust="spacingAndGlyphs" stroke="#1a1718" stroke-width="0.2" fill="#1a1718">0</text>
<path d="M206.35 375.4H278.15" stroke="#1a1718" stroke-width="3.5" stroke-linecap="round" fill="none"/>
<path d="M297.55 542.3H356.75" stroke="#1a1718" stroke-width="3.5" stroke-linecap="round" fill="none"/>
<path d="M380.65 586.2H445.25" stroke="#1a1718" stroke-width="3.5" stroke-linecap="round" fill="none"/>
<use href="#star" x="230.4" y="340.05"/>
<use href="#star" x="242.75" y="340.05"/>
<use href="#star" x="255.1" y="340.05"/>
<use href="#star" x="321.3" y="480.7"/>
<use href="#star" x="334" y="480.7"/>
<use href="#dag" x="314.6" y="503.6"/>
<use href="#dag" x="326.65" y="503.6"/>
<use href="#dag" x="338.7" y="503.6"/>
<use href="#dag" x="401.3" y="546.7"/>
<use href="#dag" x="413.45" y="546.7"/>
<use href="#dag" x="425.6" y="546.7"/>
<text transform="translate(55 535.7) rotate(-90)" text-anchor="start" font-family='"Liberation Serif", serif' font-weight="700" font-size="18" letter-spacing="-0.9" stroke="#1a1718" stroke-width="0.4" textLength="31.9" lengthAdjust="spacingAndGlyphs" fill="#1a1718">IL-8</text>
<text transform="translate(55 497.5) rotate(-90)" text-anchor="start" font-family='"Liberation Serif", serif' font-weight="700" font-size="18" letter-spacing="-0.9" stroke="#1a1718" stroke-width="0.4" textLength="44.3" lengthAdjust="spacingAndGlyphs" fill="#1a1718">pg/ml</text>
<text x="6.8" y="339.7" font-family='"Liberation Sans", sans-serif' font-weight="700" font-size="22.4" fill="#000">C</text>
<text x="58.8" y="646.4" text-anchor="start" font-family='"Liberation Serif", serif' font-weight="700" font-size="18" letter-spacing="-0.9" textLength="34.5" lengthAdjust="spacingAndGlyphs" stroke="#1a1718" stroke-width="0.4" fill="#1a1718">LPS</text>
<text x="58.8" y="670.5" text-anchor="start" font-family='"Liberation Serif", serif' font-weight="700" font-size="18" letter-spacing="-0.9" textLength="45.2" lengthAdjust="spacingAndGlyphs" stroke="#1a1718" stroke-width="0.4" fill="#1a1718">EISO</text>
<text x="171.2" y="646.4" text-anchor="middle" font-family='"Liberation Serif", serif' font-weight="700" font-size="18" letter-spacing="-0.9" textLength="9.7" lengthAdjust="spacingAndGlyphs" stroke="#1a1718" stroke-width="0.4" fill="#1a1718">0</text>
<text x="171.2" y="670.5" text-anchor="middle" font-family='"Liberation Serif", serif' font-weight="700" font-size="18" letter-spacing="-0.9" textLength="9.7" lengthAdjust="spacingAndGlyphs" stroke="#1a1718" stroke-width="0.4" fill="#1a1718">0</text>
<text x="247.2" y="647.4" text-anchor="middle" font-family='"Liberation Serif", serif' font-weight="400" font-size="24" stroke="#1a1718" stroke-width="0.35" fill="#1a1718">+</text>
<text x="248" y="670.5" text-anchor="middle" font-family='"Liberation Serif", serif' font-weight="700" font-size="18" letter-spacing="-0.9" textLength="9.7" lengthAdjust="spacingAndGlyphs" stroke="#1a1718" stroke-width="0.4" fill="#1a1718">0</text>
<text x="324" y="647.4" text-anchor="middle" font-family='"Liberation Serif", serif' font-weight="400" font-size="24" stroke="#1a1718" stroke-width="0.35" fill="#1a1718">+</text>
<text x="325.8" y="670.5" text-anchor="middle" font-family='"Liberation Serif", serif' font-weight="700" font-size="18" letter-spacing="-0.9" textLength="42.2" lengthAdjust="spacingAndGlyphs" stroke="#1a1718" stroke-width="0.4" fill="#1a1718">0.001</text>
<text x="402" y="647.4" text-anchor="middle" font-family='"Liberation Serif", serif' font-weight="400" font-size="24" stroke="#1a1718" stroke-width="0.35" fill="#1a1718">+</text>
<text x="403.5" y="670.5" text-anchor="middle" font-family='"Liberation Serif", serif' font-weight="700" font-size="18" letter-spacing="-0.9" textLength="43.2" lengthAdjust="spacingAndGlyphs" stroke="#1a1718" stroke-width="0.4" fill="#1a1718">0.002</text>
<rect x="732.25" y="447.5" width="11.65" height="160.4" fill="#fff" stroke="#1a1718" stroke-width="2.8" stroke-linejoin="round"/>
<path d="M738.05 447.1V441.1" stroke="#1a1718" stroke-width="2.5" fill="none"/>
<path d="M735.1 441.1H741" stroke="#1a1718" stroke-width="2.4" stroke-linecap="round" fill="none"/>
<rect x="750.05" y="411.3" width="11.75" height="196.6" fill="#1a1718" stroke="#1a1718" stroke-width="2.8" stroke-linejoin="round"/>
<path d="M755.9 410.9V408.6" stroke="#1a1718" stroke-width="2.5" fill="none"/>
<path d="M752.95 408.6H758.85" stroke="#1a1718" stroke-width="2.4" stroke-linecap="round" fill="none"/>
<clipPath id="c21"><rect x="769.25" y="413.5" width="9.55" height="194.4"/></clipPath><rect x="768.15" y="412.4" width="11.75" height="195.5" fill="#fff"/><path d="M780.3 401.25L767.75 412.55M780.3 412.45L767.75 423.75M780.3 423.65L767.75 434.95M780.3 434.85L767.75 446.15M780.3 446.05L767.75 457.35M780.3 457.25L767.75 468.55M780.3 468.45L767.75 479.75M780.3 479.65L767.75 490.95M780.3 490.85L767.75 502.15M780.3 502.05L767.75 513.35M780.3 513.25L767.75 524.55M780.3 524.45L767.75 535.75M780.3 535.65L767.75 546.95M780.3 546.85L767.75 558.15M780.3 558.05L767.75 569.35M780.3 569.25L767.75 580.55M780.3 580.45L767.75 591.75M780.3 591.65L767.75 602.95M780.3 602.85L767.75 614.15" stroke="#1a1718" stroke-width="2.1" fill="none" clip-path="url(#c21)"/><rect x="768.15" y="412.4" width="11.75" height="195.5" fill="none" stroke="#1a1718" stroke-width="2.8" stroke-linejoin="round"/>
<path d="M774 412V408.8" stroke="#1a1718" stroke-width="2.5" fill="none"/>
<path d="M771.05 408.8H776.95" stroke="#1a1718" stroke-width="2.4" stroke-linecap="round" fill="none"/>
<clipPath id="c22"><rect x="787.35" y="444.3" width="9.35" height="163.6"/></clipPath><rect x="786.25" y="443.2" width="11.55" height="164.7" fill="#fff"/><path d="M798.2 432.05L785.85 443.17M785.85 432.05L798.2 443.17M798.2 443.25L785.85 454.37M785.85 443.25L798.2 454.37M798.2 454.45L785.85 465.57M785.85 454.45L798.2 465.57M798.2 465.65L785.85 476.77M785.85 465.65L798.2 476.77M798.2 476.85L785.85 487.97M785.85 476.85L798.2 487.97M798.2 488.05L785.85 499.17M785.85 488.05L798.2 499.17M798.2 499.25L785.85 510.37M785.85 499.25L798.2 510.37M798.2 510.45L785.85 521.57M785.85 510.45L798.2 521.57M798.2 521.65L785.85 532.76M785.85 521.65L798.2 532.76M798.2 532.85L785.85 543.97M785.85 532.85L798.2 543.97M798.2 544.05L785.85 555.16M785.85 544.05L798.2 555.16M798.2 555.25L785.85 566.37M785.85 555.25L798.2 566.37M798.2 566.45L785.85 577.56M785.85 566.45L798.2 577.56M798.2 577.65L785.85 588.76M785.85 577.65L798.2 588.76M798.2 588.85L785.85 599.97M785.85 588.85L798.2 599.97M798.2 600.05L785.85 611.16M785.85 600.05L798.2 611.16" stroke="#1a1718" stroke-width="1.9" fill="none" clip-path="url(#c22)"/><rect x="786.25" y="443.2" width="11.55" height="164.7" fill="none" stroke="#1a1718" stroke-width="2.8" stroke-linejoin="round"/>
<path d="M792 442.8V441.1" stroke="#1a1718" stroke-width="2.5" fill="none"/>
<path d="M789.05 441.1H794.95" stroke="#1a1718" stroke-width="2.4" stroke-linecap="round" fill="none"/>
<rect x="816.35" y="539.9" width="11.35" height="68" fill="#fff" stroke="#1a1718" stroke-width="2.8" stroke-linejoin="round"/>
<path d="M822 539.5V534.8" stroke="#1a1718" stroke-width="2.5" fill="none"/>
<path d="M819.05 534.8H824.95" stroke="#1a1718" stroke-width="2.4" stroke-linecap="round" fill="none"/>
<rect x="834.25" y="543.6" width="11.35" height="64.3" fill="#1a1718" stroke="#1a1718" stroke-width="2.8" stroke-linejoin="round"/>
<path d="M839.9 543.2V536.1" stroke="#1a1718" stroke-width="2.5" fill="none"/>
<path d="M836.95 536.1H842.85" stroke="#1a1718" stroke-width="2.4" stroke-linecap="round" fill="none"/>
<clipPath id="c23"><rect x="853.35" y="535.8" width="9.25" height="72.1"/></clipPath><rect x="852.25" y="534.7" width="11.45" height="73.2" fill="#fff"/><path d="M864.1 523.55L851.85 534.57M864.1 534.75L851.85 545.77M864.1 545.95L851.85 556.97M864.1 557.15L851.85 568.17M864.1 568.35L851.85 579.37M864.1 579.55L851.85 590.57M864.1 590.75L851.85 601.77M864.1 601.95L851.85 612.97" stroke="#1a1718" stroke-width="2.1" fill="none" clip-path="url(#c23)"/><rect x="852.25" y="534.7" width="11.45" height="73.2" fill="none" stroke="#1a1718" stroke-width="2.8" stroke-linejoin="round"/>
<path d="M857.95 534.3V531.4" stroke="#1a1718" stroke-width="2.5" fill="none"/>
<path d="M855 531.4H860.9" stroke="#1a1718" stroke-width="2.4" stroke-linecap="round" fill="none"/>
<clipPath id="c24"><rect x="871.45" y="549" width="9.05" height="58.9"/></clipPath><rect x="870.35" y="547.9" width="11.25" height="60" fill="#fff"/><path d="M882 536.75L869.95 547.59M869.95 536.75L882 547.59M882 547.95L869.95 558.79M869.95 547.95L882 558.79M882 559.15L869.95 570M869.95 559.15L882 570M882 570.35L869.95 581.19M869.95 570.35L882 581.19M882 581.55L869.95 592.39M869.95 581.55L882 592.39M882 592.75L869.95 603.59M869.95 592.75L882 603.59M882 603.95L869.95 614.79M869.95 603.95L882 614.79" stroke="#1a1718" stroke-width="1.9" fill="none" clip-path="url(#c24)"/><rect x="870.35" y="547.9" width="11.25" height="60" fill="none" stroke="#1a1718" stroke-width="2.8" stroke-linejoin="round"/>
<path d="M875.95 547.5V544.3" stroke="#1a1718" stroke-width="2.5" fill="none"/>
<path d="M873 544.3H878.9" stroke="#1a1718" stroke-width="2.4" stroke-linecap="round" fill="none"/>
<rect x="899.95" y="583.7" width="11.45" height="24.2" fill="#fff" stroke="#1a1718" stroke-width="2.8" stroke-linejoin="round"/>
<path d="M905.65 583.3V576.5" stroke="#1a1718" stroke-width="2.5" fill="none"/>
<path d="M902.7 576.5H908.6" stroke="#1a1718" stroke-width="2.4" stroke-linecap="round" fill="none"/>
<rect x="918.05" y="591.5" width="11.45" height="16.4" fill="#1a1718" stroke="#1a1718" stroke-width="2.8" stroke-linejoin="round"/>
<path d="M923.75 591.1V588.9" stroke="#1a1718" stroke-width="2.5" fill="none"/>
<path d="M920.8 588.9H926.7" stroke="#1a1718" stroke-width="2.4" stroke-linecap="round" fill="none"/>
<clipPath id="c25"><rect x="937.35" y="592.6" width="9.05" height="15.3"/></clipPath><rect x="936.25" y="591.5" width="11.25" height="16.4" fill="#fff"/><path d="M947.9 580.35L935.85 591.19M947.9 591.55L935.85 602.39M947.9 602.75L935.85 613.6" stroke="#1a1718" stroke-width="2.1" fill="none" clip-path="url(#c25)"/><rect x="936.25" y="591.5" width="11.25" height="16.4" fill="none" stroke="#1a1718" stroke-width="2.8" stroke-linejoin="round"/>
<path d="M941.85 591.1V588.9" stroke="#1a1718" stroke-width="2.5" fill="none"/>
<path d="M938.9 588.9H944.8" stroke="#1a1718" stroke-width="2.4" stroke-linecap="round" fill="none"/>
<clipPath id="c26"><rect x="955.25" y="591.6" width="9.25" height="16.3"/></clipPath><rect x="954.15" y="590.5" width="11.45" height="17.4" fill="#fff"/><path d="M966 579.35L953.75 590.37M953.75 579.35L966 590.37M966 590.55L953.75 601.57M953.75 590.55L966 601.57M966 601.75L953.75 612.77M953.75 601.75L966 612.77" stroke="#1a1718" stroke-width="1.9" fill="none" clip-path="url(#c26)"/><rect x="954.15" y="590.5" width="11.45" height="17.4" fill="none" stroke="#1a1718" stroke-width="2.8" stroke-linejoin="round"/>
<path d="M959.85 590.1V584.7" stroke="#1a1718" stroke-width="2.5" fill="none"/>
<path d="M956.9 584.7H962.8" stroke="#1a1718" stroke-width="2.4" stroke-linecap="round" fill="none"/>
<path d="M649 606.6H659.5" stroke="#1a1718" stroke-width="1" stroke-linecap="round" fill="none"/>
<path d="M666 606.35H677" stroke="#1a1718" stroke-width="1.5" stroke-linecap="round" fill="none"/>
<path d="M684.5 606.35H696" stroke="#1a1718" stroke-width="1.5" stroke-linecap="round" fill="none"/>
<path d="M702.5 606.7H712.5" stroke="#1a1718" stroke-width="0.8" stroke-linecap="round" fill="none"/>
<path d="M711.2 607.9L711.6 596L713.8 607.9Z" fill="#1a1718" stroke="#1a1718" stroke-width="0.8" stroke-linejoin="round"/>
<path d="M639.7 381.3V609.5" stroke="#1a1718" stroke-width="3.2" fill="none"/>
<path d="M631.2 607.9H976.4" stroke="#1a1718" stroke-width="3.3" stroke-linecap="round" fill="none"/>
<path d="M631.2 414.4H639.7" stroke="#1a1718" stroke-width="2.3" fill="none"/>
<text x="631.5" y="421" text-anchor="end" font-family='"Liberation Sans", sans-serif' font-weight="700" font-size="17" letter-spacing="-1.2" textLength="35.4" lengthAdjust="spacingAndGlyphs" stroke="#1a1718" stroke-width="0.2" fill="#1a1718">3000</text>
<path d="M631.2 511.1H639.7" stroke="#1a1718" stroke-width="2.3" fill="none"/>
<text x="631.5" y="517.7" text-anchor="end" font-family='"Liberation Sans", sans-serif' font-weight="700" font-size="17" letter-spacing="-1.2" textLength="35.4" lengthAdjust="spacingAndGlyphs" stroke="#1a1718" stroke-width="0.2" fill="#1a1718">1500</text>
<text x="631.5" y="614.5" text-anchor="end" font-family='"Liberation Sans", sans-serif' font-weight="700" font-size="17" letter-spacing="-1.2" textLength="9.9" lengthAdjust="spacingAndGlyphs" stroke="#1a1718" stroke-width="0.2" fill="#1a1718">0</text>
<path d="M732.45 394.6H801.15" stroke="#1a1718" stroke-width="3.5" stroke-linecap="round" fill="none"/>
<path d="M817.75 523.4H879.45" stroke="#1a1718" stroke-width="3.5" stroke-linecap="round" fill="none"/>
<path d="M900.85 570.7H965.95" stroke="#1a1718" stroke-width="3.5" stroke-linecap="round" fill="none"/>
<use href="#star" x="753.3" y="361.45"/>
<use href="#star" x="765.5" y="361.45"/>
<use href="#star" x="777.7" y="361.45"/>
<use href="#star" x="845.3" y="466.15"/>
<use href="#star" x="857.7" y="466.15"/>
<use href="#dag" x="838.6" y="486.4"/>
<use href="#dag" x="850.75" y="486.4"/>
<use href="#dag" x="862.9" y="486.4"/>
<use href="#dag" x="922" y="529.6"/>
<use href="#dag" x="934" y="529.6"/>
<use href="#dag" x="946" y="529.6"/>
<text transform="translate(582.6 535.3) rotate(-90)" text-anchor="start" font-family='"Liberation Serif", serif' font-weight="700" font-size="18" letter-spacing="-0.9" stroke="#1a1718" stroke-width="0.4" textLength="32.2" lengthAdjust="spacingAndGlyphs" fill="#1a1718">IL-6</text>
<text transform="translate(582.6 497.5) rotate(-90)" text-anchor="start" font-family='"Liberation Serif", serif' font-weight="700" font-size="18" letter-spacing="-0.9" stroke="#1a1718" stroke-width="0.4" textLength="44.3" lengthAdjust="spacingAndGlyphs" fill="#1a1718">pg/ml</text>
<text x="547.6" y="339.7" font-family='"Liberation Sans", sans-serif' font-weight="700" font-size="22.4" fill="#000">D</text>
<text x="578.8" y="646.7" text-anchor="start" font-family='"Liberation Serif", serif' font-weight="700" font-size="18" letter-spacing="-0.9" textLength="34.5" lengthAdjust="spacingAndGlyphs" stroke="#1a1718" stroke-width="0.4" fill="#1a1718">LPS</text>
<text x="578.8" y="670.9" text-anchor="start" font-family='"Liberation Serif", serif' font-weight="700" font-size="18" letter-spacing="-0.9" textLength="45.2" lengthAdjust="spacingAndGlyphs" stroke="#1a1718" stroke-width="0.4" fill="#1a1718">EISO</text>
<text x="691" y="646.7" text-anchor="middle" font-family='"Liberation Serif", serif' font-weight="700" font-size="18" letter-spacing="-0.9" textLength="9.7" lengthAdjust="spacingAndGlyphs" stroke="#1a1718" stroke-width="0.4" fill="#1a1718">0</text>
<text x="691" y="670.9" text-anchor="middle" font-family='"Liberation Serif", serif' font-weight="700" font-size="18" letter-spacing="-0.9" textLength="9.7" lengthAdjust="spacingAndGlyphs" stroke="#1a1718" stroke-width="0.4" fill="#1a1718">0</text>
<text x="766.7" y="647.7" text-anchor="middle" font-family='"Liberation Serif", serif' font-weight="400" font-size="24" stroke="#1a1718" stroke-width="0.35" fill="#1a1718">+</text>
<text x="768.5" y="670.9" text-anchor="middle" font-family='"Liberation Serif", serif' font-weight="700" font-size="18" letter-spacing="-0.9" textLength="9.7" lengthAdjust="spacingAndGlyphs" stroke="#1a1718" stroke-width="0.4" fill="#1a1718">0</text>
<text x="844.2" y="647.7" text-anchor="middle" font-family='"Liberation Serif", serif' font-weight="400" font-size="24" stroke="#1a1718" stroke-width="0.35" fill="#1a1718">+</text>
<text x="845" y="670.9" text-anchor="middle" font-family='"Liberation Serif", serif' font-weight="700" font-size="18" letter-spacing="-0.9" textLength="42.2" lengthAdjust="spacingAndGlyphs" stroke="#1a1718" stroke-width="0.4" fill="#1a1718">0.001</text>
<text x="921.4" y="647.7" text-anchor="middle" font-family='"Liberation Serif", serif' font-weight="400" font-size="24" stroke="#1a1718" stroke-width="0.35" fill="#1a1718">+</text>
<text x="923.4" y="670.9" text-anchor="middle" font-family='"Liberation Serif", serif' font-weight="700" font-size="18" letter-spacing="-0.9" textLength="43.2" lengthAdjust="spacingAndGlyphs" stroke="#1a1718" stroke-width="0.4" fill="#1a1718">0.002</text>
<clipPath id="lc3"><rect x="404.7" y="70.4" width="30.7" height="10.2"/></clipPath>
<clipPath id="lc4"><rect x="404.7" y="96.3" width="30.7" height="10.2"/></clipPath>
<rect x="403.45" y="17.55" width="33.2" height="12.7" fill="#fff" stroke="#1a1718" stroke-width="2.7" stroke-linejoin="round"/>
<rect x="403.45" y="43.35" width="33.2" height="12.7" fill="#1a1718" stroke="#1a1718" stroke-width="2.7" stroke-linejoin="round"/>
<rect x="403.45" y="69.15" width="33.2" height="12.7" fill="#fff" stroke="#1a1718" stroke-width="2.7" stroke-linejoin="round"/>
<rect x="403.45" y="95.05" width="33.2" height="12.7" fill="#fff" stroke="#1a1718" stroke-width="2.7" stroke-linejoin="round"/>
<path d="M405.7 81.6L414.9 69.4M416.5 81.6L425.7 69.4M427.5 81.6L436.7 69.4" stroke="#1a1718" stroke-width="2.1" fill="none" clip-path="url(#lc3)"/>
<path d="M389.9 108.8L405.9 94M389.9 94L405.9 108.8M400.8 108.8L416.8 94M400.8 94L416.8 108.8M411.7 108.8L427.7 94M411.7 94L427.7 108.8M422.6 108.8L438.6 94M422.6 94L438.6 108.8M433.5 108.8L449.5 94M433.5 94L449.5 108.8" stroke="#1a1718" stroke-width="1.9" fill="none" clip-path="url(#lc4)"/>
<text x="442.6" y="29.9" text-anchor="start" font-family='"Liberation Serif", serif' font-weight="700" font-size="18" letter-spacing="-0.9" textLength="25.3" lengthAdjust="spacingAndGlyphs" stroke="#1a1718" stroke-width="0.4" fill="#1a1718">DF</text>
<text x="442.6" y="55.7" text-anchor="start" font-family='"Liberation Serif", serif' font-weight="700" font-size="18" letter-spacing="-0.9" textLength="77.3" lengthAdjust="spacingAndGlyphs" stroke="#1a1718" stroke-width="0.4" fill="#1a1718">BEAS-2B</text>
<text x="442.6" y="81.5" text-anchor="start" font-family='"Liberation Serif", serif' font-weight="700" font-size="18" letter-spacing="-0.9" textLength="40.4" lengthAdjust="spacingAndGlyphs" stroke="#1a1718" stroke-width="0.4" fill="#1a1718">A549</text>
<text x="442.6" y="107.4" text-anchor="start" font-family='"Liberation Serif", serif' font-weight="700" font-size="18" letter-spacing="-0.9" textLength="51.3" lengthAdjust="spacingAndGlyphs" stroke="#1a1718" stroke-width="0.4" fill="#1a1718">THP-1</text>
</svg>
</body></html>
